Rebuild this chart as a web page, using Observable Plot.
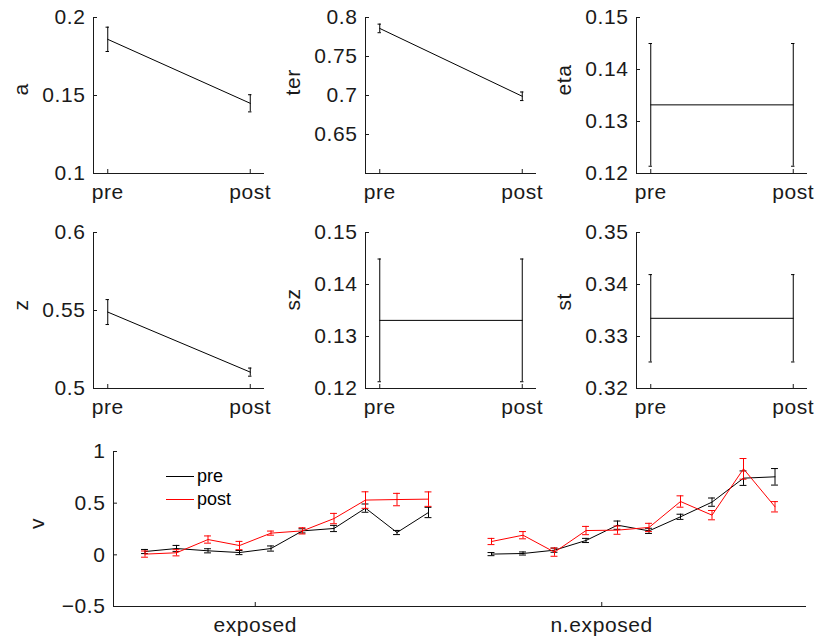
<!DOCTYPE html>
<html><head><meta charset="utf-8">
<script src="https://cdn.jsdelivr.net/npm/d3@7"></script>
<script src="https://cdn.jsdelivr.net/npm/@observablehq/plot@0.6"></script>
<style>
body{margin:0;background:#fff;}
#chart{position:relative;width:816px;height:642px;font-family:"Liberation Sans",Arial,Helvetica,sans-serif;}
#chart > .p{position:absolute;}
#legend{position:absolute;left:166px;top:465px;font-size:18px;line-height:23px;}
#legend div{display:flex;align-items:center;}
#legend span.sw{display:inline-block;width:28px;height:0;border-top:1.2px solid;margin-right:3px;}
</style></head><body><div id="chart"></div>
<script>
// ---- data ----
const conditions = ["pre", "post"];
const conditionPos = [1, 2];

const aMean = [0.186, 0.145];   const aErr = [0.0078, 0.0055];
const terMean = [0.786, 0.699]; const terErr = [0.0055, 0.0055];
const etaMean = [0.1332, 0.1332]; const etaErr = [0.0118, 0.0118];
const zMean = [0.549, 0.5105];  const zErr = [0.008, 0.0026];
const szMean = [0.1331, 0.1331]; const szErr = [0.0118, 0.0118];
const stMean = [0.3335, 0.3335]; const stErr = [0.0084, 0.0084];

const aTicks = [0.1, 0.15, 0.2];
const terTicks = [0.65, 0.7, 0.75, 0.8];
const etaTicks = [0.12, 0.13, 0.14, 0.15];
const zTicks = [0.5, 0.55, 0.6];
const szTicks = [0.12, 0.13, 0.14, 0.15];
const stTicks = [0.32, 0.33, 0.34, 0.35];

// bottom panel
const groups = ["exposed", "n.exposed"];
const groupTickPos = [4.5, 15.5];
const exposedPos = [1, 2, 3, 4, 5, 6, 7, 8, 9, 10];
const nexposedPos = [12, 13, 14, 15, 16, 17, 18, 19, 20, 21];
const vPreExposed =  [0.032, 0.061, 0.039, 0.022, 0.061, 0.232, 0.255, 0.452, 0.216, 0.41];
const vPreExposedErr = [0.02, 0.03, 0.02, 0.02, 0.025, 0.02, 0.03, 0.04, 0.02, 0.05];
const vPostExposed = [0.007, 0.02, 0.148, 0.09, 0.21, 0.232, 0.351, 0.53, 0.535, 0.539];
const vPostExposedErr = [0.03, 0.03, 0.035, 0.04, 0.02, 0.03, 0.05, 0.08, 0.06, 0.07];
const vPreNexposed = [0.007, 0.013, 0.045, 0.139, 0.287, 0.232, 0.368, 0.51, 0.742, 0.755];
const vPreNexposedErr = [0.015, 0.015, 0.02, 0.02, 0.04, 0.025, 0.025, 0.04, 0.07, 0.08];
const vPostNexposed = [0.129, 0.19, 0.026, 0.235, 0.239, 0.265, 0.516, 0.384, 0.832, 0.465];
const vPostNexposedErr = [0.03, 0.035, 0.04, 0.04, 0.04, 0.04, 0.055, 0.045, 0.1, 0.05];
const vTicks = [-0.5, 0, 0.5, 1];

// ---- drawing ----
const FONT = '"Liberation Sans",Arial,Helvetica,sans-serif';
const AX = "#1a1a1a";
const FS = 21;
const fmt = d => (d < 0 ? "\u2212" : "") + Math.abs(d);
const chart = document.getElementById("chart");

function place(el, left, top) {
  el.classList.add("p");
  el.style.left = left + "px";
  el.style.top = top + "px";
  chart.appendChild(el);
}

function smallPanel(name, mean, err, ticks, left, top, mL) {
  const data = conditions.map((c, i) => ({x: conditionPos[i], m: mean[i], lo: mean[i] - err[i], hi: mean[i] + err[i]}));
  const xDom = [0.9, 2.1];
  const yDom = [ticks[0] === 0.65 ? 0.6 : ticks[0], ticks[ticks.length - 1]];
  const W = 276, H = 210;
  const cap = 0.012;
  const p = Plot.plot({
    width: W, height: H,
    marginLeft: mL, marginRight: W - mL - 171, marginTop: 17, marginBottom: 37,
    style: {fontSize: FS + "px", fontFamily: FONT, letterSpacing: "0.6px", color: AX, background: "transparent", overflow: "visible"},
    x: {domain: xDom},
    y: {domain: yDom},
    marks: [
      Plot.ruleX([xDom[0]], {stroke: AX}),
      Plot.ruleY([yDom[0]], {stroke: AX}),
      Plot.axisX({ticks: conditionPos, tickFormat: d => conditions[conditionPos.indexOf(d)], tickSize: -4, tickPadding: 15, label: null, stroke: AX}),
      Plot.axisY({ticks, tickFormat: fmt, tickSize: -4, tickPadding: 12, label: null, stroke: AX}),
      Plot.line(data, {x: "x", y: "m", stroke: "#000", strokeWidth: 1}),
      Plot.ruleX(data, {x: "x", y1: "lo", y2: "hi", stroke: "#000", strokeWidth: 1}),
      Plot.ruleY(data, {y: "lo", x1: d => d.x - cap, x2: d => d.x + cap, stroke: "#000"}),
      Plot.ruleY(data, {y: "hi", x1: d => d.x - cap, x2: d => d.x + cap, stroke: "#000"}),
      Plot.text([name], {text: d => d, frameAnchor: "left", dx: -72, rotate: -90, fontSize: FS, fill: AX})
    ]
  });
  place(p, left, top);
}

smallPanel("a", aMean, aErr, aTicks, 0, 0, 93);
smallPanel("ter", terMean, terErr, terTicks, 270, 0, 95);
smallPanel("eta", etaMean, etaErr, etaTicks, 540, 0, 96);
smallPanel("z", zMean, zErr, zTicks, 0, 215, 93);
smallPanel("sz", szMean, szErr, szTicks, 270, 215, 95);
smallPanel("st", stMean, stErr, stTicks, 540, 215, 96);

// bottom panel
const rows = [];
function addRows(series, group, pos, vals, errs) {
  pos.forEach((x, i) => rows.push({series, group, x, m: vals[i], lo: vals[i] - errs[i], hi: vals[i] + errs[i]}));
}
addRows("pre", groups[0], exposedPos, vPreExposed, vPreExposedErr);
addRows("pre", groups[1], nexposedPos, vPreNexposed, vPreNexposedErr);
addRows("post", groups[0], exposedPos, vPostExposed, vPostExposedErr);
addRows("post", groups[1], nexposedPos, vPostNexposed, vPostNexposedErr);

const xDomB = [0, 22];
const capB = 0.11;
const bottom = Plot.plot({
  width: 816, height: 212,
  marginLeft: 113, marginRight: 10, marginTop: 21, marginBottom: 36,
  style: {fontSize: FS + "px", fontFamily: FONT, letterSpacing: "0.6px", color: AX, background: "transparent", overflow: "visible"},
  x: {domain: xDomB},
  y: {domain: [vTicks[0], vTicks[vTicks.length - 1]]},
  color: {domain: ["pre", "post"], range: ["#000000", "#ff0000"]},
  marks: [
    Plot.ruleX([xDomB[0]], {stroke: AX}),
    Plot.ruleY([vTicks[0]], {stroke: AX}),
    Plot.axisX({ticks: groupTickPos, tickFormat: d => groups[groupTickPos.indexOf(d)], tickSize: -4, tickPadding: 15, label: null, stroke: AX}),
    Plot.axisY({ticks: vTicks, tickFormat: fmt, tickSize: -4, tickPadding: 12, label: null, stroke: AX}),
    ...["pre", "post"].flatMap(s => {
      const d = rows.filter(r => r.series === s);
      return [
        Plot.line(d, {x: "x", y: "m", z: "group", stroke: "series", strokeWidth: 1}),
        Plot.ruleX(d, {x: "x", y1: "lo", y2: "hi", stroke: "series", strokeWidth: 1}),
        Plot.ruleY(d, {y: "lo", x1: r => r.x - capB, x2: r => r.x + capB, stroke: "series"}),
        Plot.ruleY(d, {y: "hi", x1: r => r.x - capB, x2: r => r.x + capB, stroke: "series"})
      ];
    }),
    Plot.text(["v"], {text: d => d, frameAnchor: "left", dx: -76, rotate: -90, fontSize: FS, fill: AX})
  ]
});
place(bottom, 0, 430);

// legend
const legend = document.createElement("div");
legend.id = "legend";
[["pre", "#000000"], ["post", "#ff0000"]].forEach(([label, col]) => {
  const row = document.createElement("div");
  const sw = document.createElement("span");
  sw.className = "sw";
  sw.style.borderTopColor = col;
  row.appendChild(sw);
  row.appendChild(document.createTextNode(label));
  legend.appendChild(row);
});
chart.appendChild(legend);
</script>
</body></html>
